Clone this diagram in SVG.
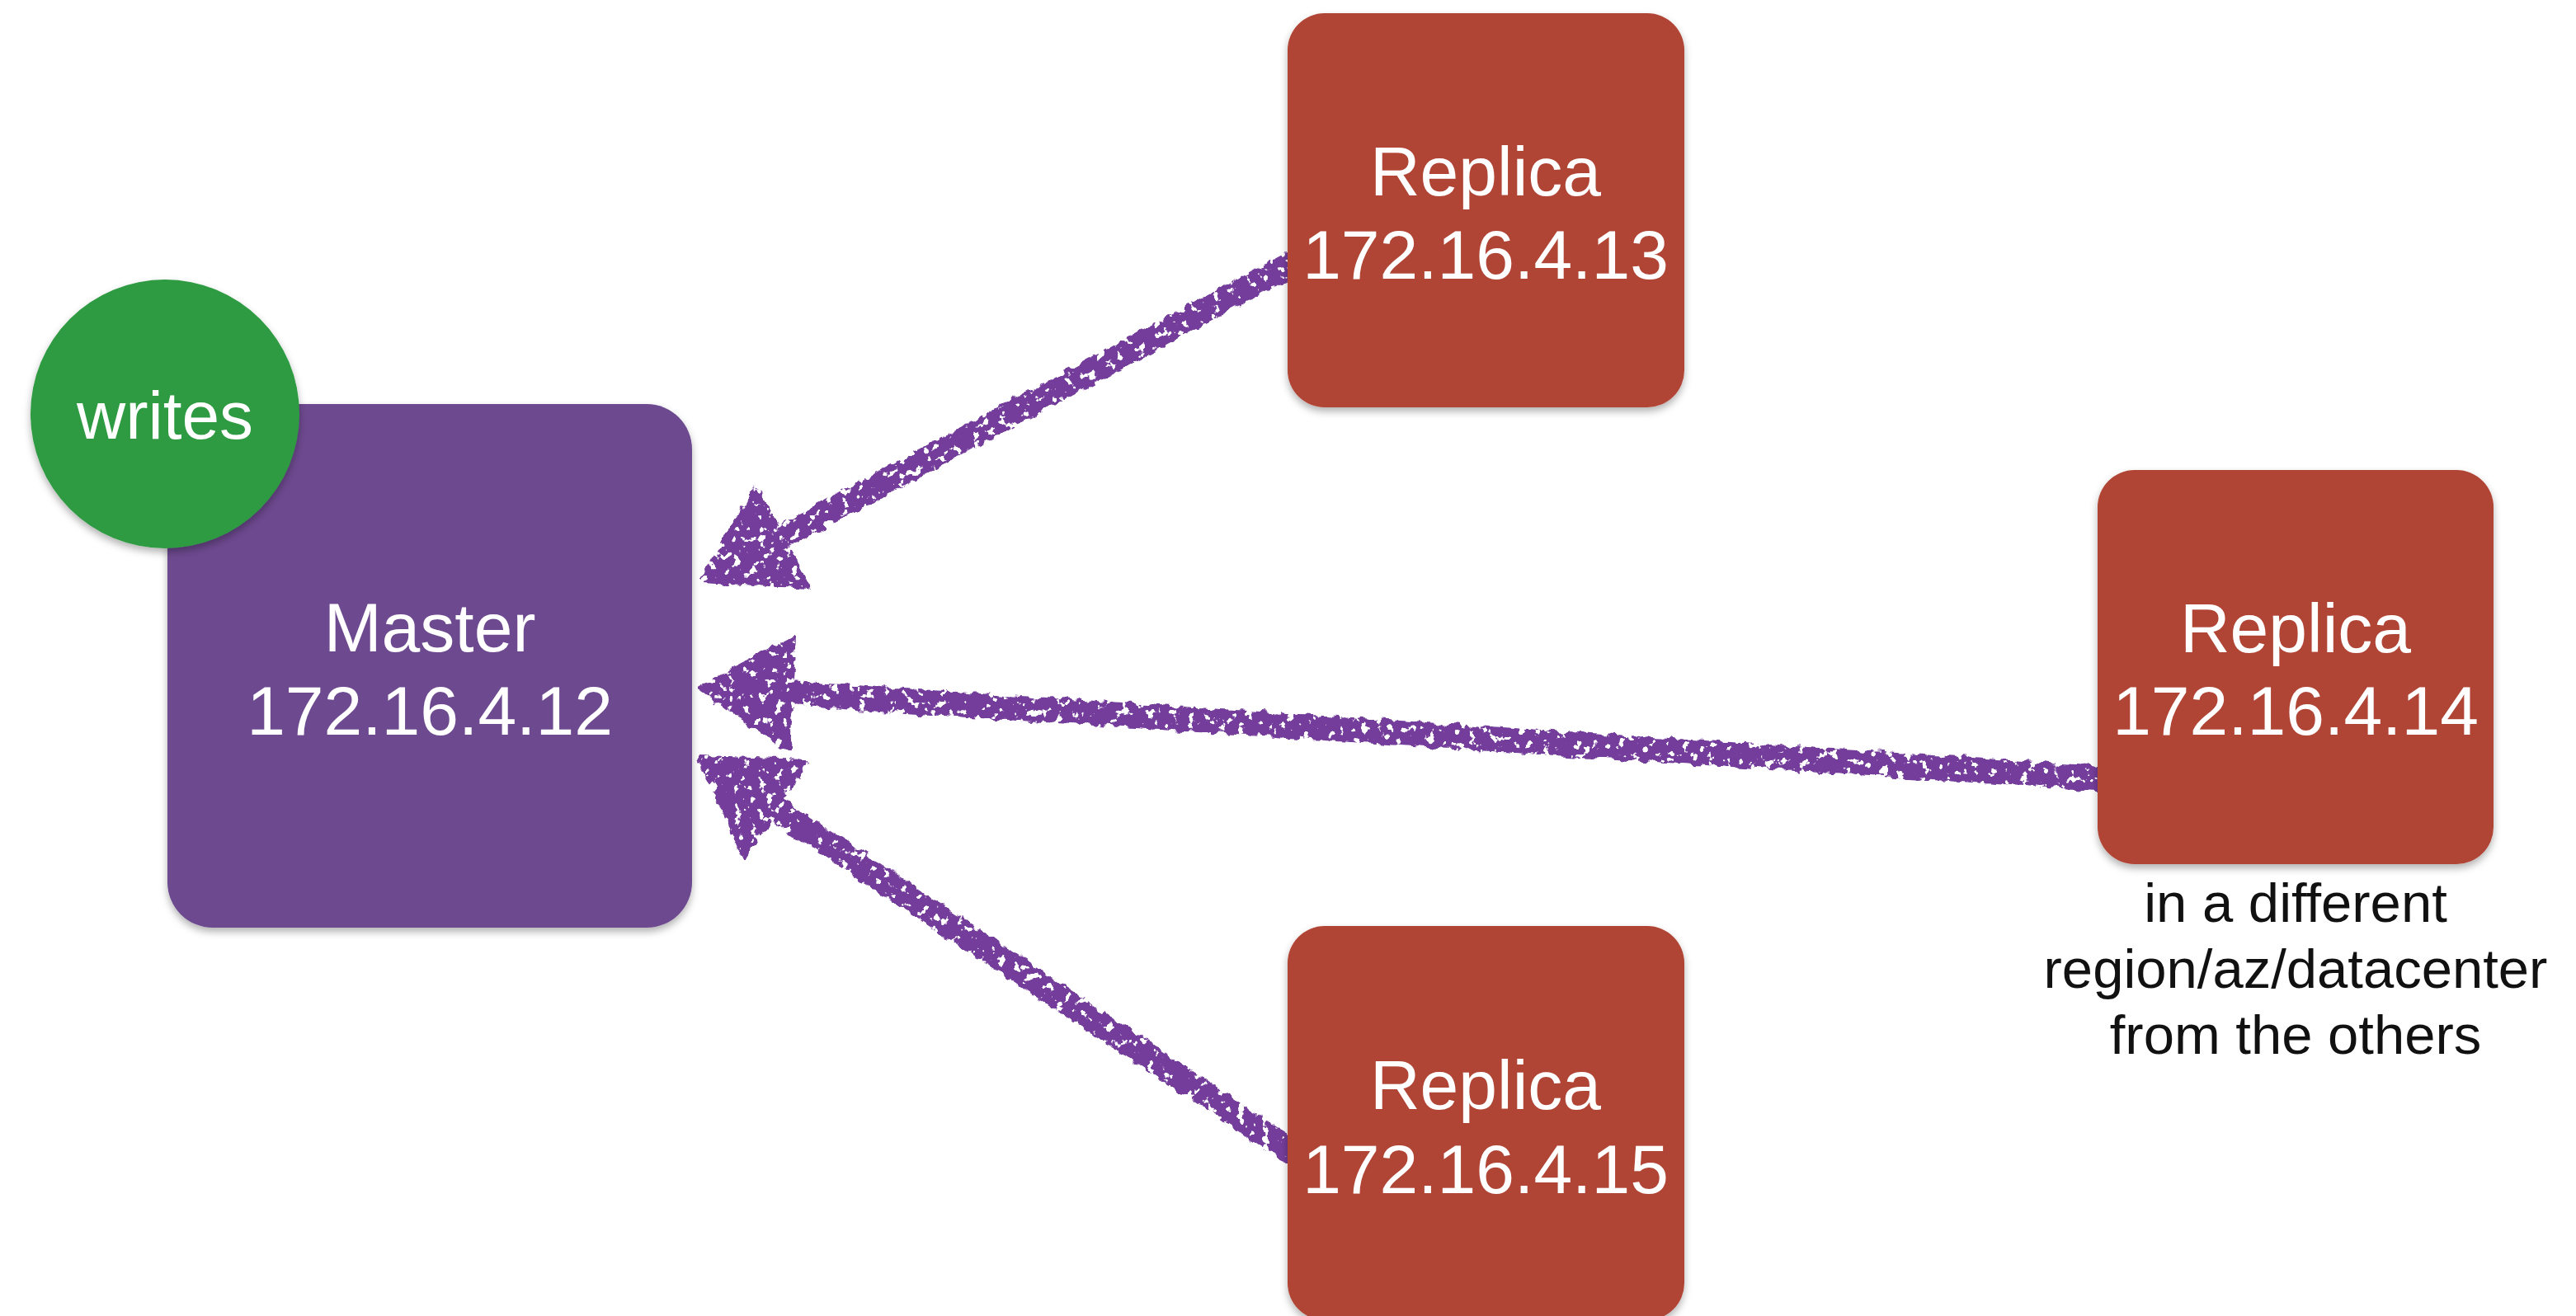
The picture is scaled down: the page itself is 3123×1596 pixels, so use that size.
<svg xmlns="http://www.w3.org/2000/svg" width="3123" height="1596" viewBox="0 0 3123 1596">
  <defs>
    <filter id="shadow" x="-10%" y="-10%" width="120%" height="120%">
      <feDropShadow dx="0" dy="5" stdDeviation="5" flood-color="#000" flood-opacity="0.3"/>
    </filter>
    <filter id="chalk" filterUnits="userSpaceOnUse" x="0" y="0" width="3123" height="1596">
      <feTurbulence type="fractalNoise" baseFrequency="0.08" numOctaves="2" seed="4" result="n"/>
      <feDisplacementMap in="SourceGraphic" in2="n" scale="12" xChannelSelector="R" yChannelSelector="G" result="rough"/>
      <feTurbulence type="fractalNoise" baseFrequency="0.1" numOctaves="3" seed="9" result="spk"/>
      <feColorMatrix in="spk" type="matrix" values="0 0 0 0 0  0 0 0 0 0  0 0 0 0 0  -20 0 0 0 13.4" result="keep"/>
      <feComposite in="rough" in2="keep" operator="in"/>
    </filter>
  </defs>
  <style>
    .box { filter: url(#shadow); }
    .master { fill: #6D4A8F; }
    .replica { fill: #B04434; }
    .badge { fill: #2E9A42; }
    .lbl { font-family: "Liberation Sans", Arial, Helvetica, sans-serif; fill: #ffffff; text-anchor: middle; font-size: 84px; }
    .badge-lbl { font-family: "Liberation Sans", Arial, Helvetica, sans-serif; fill: #ffffff; text-anchor: middle; font-size: 82px; }
    .note { font-family: "Liberation Sans", Arial, Helvetica, sans-serif; fill: #111111; text-anchor: middle; font-size: 67px; }
    .wire { stroke: #743E9B; stroke-width: 30; stroke-linecap: round; fill: none; }
    .head { fill: #743E9B; stroke: #743E9B; stroke-width: 6; stroke-linejoin: round; }
  </style>
  <rect width="3123" height="1596" fill="#ffffff"/>

  <g id="connectors" filter="url(#chalk)">
    <g id="edge-r13-master">
      <path class="wire" d="M1562,322 L948,651"/>
      <polygon class="head" points="851,703 916,591 980,711"/>
    </g>
    <g id="edge-r14-master">
      <path class="wire" d="M2545,944 L959,841"/>
      <polygon class="head" points="849,834 963,773 955,909"/>
    </g>
    <g id="edge-r15-master">
      <path class="wire" d="M1562,1394 L940,981"/>
      <polygon class="head" points="849,920 978,924 902,1038"/>
    </g>
  </g>

  <g id="master">
    <rect class="box master" x="203" y="490" width="636" height="635" rx="55" ry="55"/>
    <text class="lbl" x="521" y="790">Master</text>
    <text class="lbl" x="521" y="891">172.16.4.12</text>
  </g>

  <g id="writes">
    <circle class="box badge" cx="200" cy="502" r="163"/>
    <text class="badge-lbl" x="200" y="532">writes</text>
  </g>

  <g id="replica-13">
    <rect class="box replica" x="1561" y="16" width="481" height="478" rx="45" ry="45"/>
    <text class="lbl" x="1801" y="237">Replica</text>
    <text class="lbl" x="1801" y="338">172.16.4.13</text>
  </g>

  <g id="replica-14">
    <rect class="box replica" x="2543" y="570" width="480" height="478" rx="45" ry="45"/>
    <text class="lbl" x="2783" y="791">Replica</text>
    <text class="lbl" x="2783" y="891">172.16.4.14</text>
    <text class="note" x="2783" y="1118">in a different</text>
    <text class="note" x="2783" y="1198">region/az/datacenter</text>
    <text class="note" x="2783" y="1278">from the others</text>
  </g>

  <g id="replica-15">
    <rect class="box replica" x="1561" y="1123" width="481" height="478" rx="45" ry="45"/>
    <text class="lbl" x="1801" y="1345">Replica</text>
    <text class="lbl" x="1801" y="1447">172.16.4.15</text>
  </g>
</svg>
